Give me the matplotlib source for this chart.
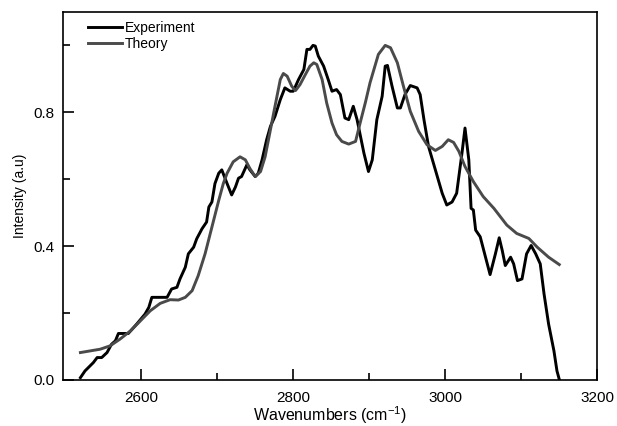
import matplotlib
matplotlib.use("Agg")
import matplotlib.pyplot as plt
from matplotlib.ticker import FixedLocator

plt.rcParams['font.family'] = ['Liberation Sans', 'DejaVu Sans']
plt.rcParams['mathtext.fontset'] = 'custom'
plt.rcParams['mathtext.rm'] = 'Liberation Sans'

# experiment (black)
exp_x = [2520, 2526, 2537, 2542, 2548, 2555, 2561, 2566, 2570, 2583, 2594, 2605,
         2610, 2614, 2621, 2634, 2640, 2647, 2651, 2658, 2662, 2669, 2673, 2680,
         2686, 2689, 2693, 2697, 2702, 2706, 2713, 2719, 2724, 2728, 2732, 2739,
         2743, 2750, 2754, 2759, 2765, 2770, 2776, 2783, 2789, 2796, 2800, 2807,
         2814, 2818, 2822, 2826, 2829, 2833, 2840, 2846, 2851, 2857, 2862, 2868,
         2873, 2879, 2884, 2893, 2899, 2904, 2910, 2917, 2921, 2924, 2930, 2937,
         2941, 2947, 2954, 2963, 2967, 2972, 2978, 2987, 2996, 3002, 3009, 3015,
         3022, 3026, 3031, 3034, 3037, 3040, 3046, 3053, 3059, 3066, 3071, 3075,
         3079, 3086, 3090, 3095, 3101, 3107, 3113, 3119, 3125, 3130, 3136, 3143,
         3147, 3150]
exp_y = [0.007, 0.027, 0.052, 0.067, 0.067, 0.082, 0.107, 0.117, 0.139, 0.139, 0.167, 0.197,
         0.217, 0.247, 0.247, 0.247, 0.272, 0.277, 0.302, 0.337, 0.377, 0.397, 0.422, 0.452,
         0.472, 0.517, 0.532, 0.587, 0.618, 0.628, 0.587, 0.553, 0.577, 0.603, 0.608, 0.643,
         0.628, 0.608, 0.618, 0.658, 0.718, 0.758, 0.788, 0.838, 0.873, 0.863, 0.863, 0.898,
         0.928, 0.988, 0.988, 1.0, 0.998, 0.968, 0.938, 0.898, 0.863, 0.868, 0.853, 0.783,
         0.778, 0.818, 0.778, 0.678, 0.623, 0.658, 0.778, 0.848, 0.938, 0.94, 0.878, 0.813,
         0.813, 0.853, 0.88, 0.873, 0.853, 0.778, 0.698, 0.628, 0.558, 0.523, 0.532, 0.558,
         0.678, 0.753, 0.658, 0.513, 0.508, 0.448, 0.428, 0.367, 0.315, 0.377, 0.425, 0.387,
         0.342, 0.367, 0.347, 0.297, 0.302, 0.377, 0.402, 0.377, 0.347, 0.257, 0.167, 0.087,
         0.027, 0.002]

# theory (grey)
th_x = [2520, 2546, 2559, 2572, 2586, 2599, 2612, 2625, 2638, 2649, 2658, 2667,
        2675, 2684, 2693, 2702, 2708, 2713, 2721, 2730, 2737, 2743, 2750, 2757,
        2763, 2770, 2776, 2783, 2787, 2792, 2798, 2803, 2809, 2816, 2822, 2827,
        2831, 2838, 2844, 2851, 2857, 2864, 2873, 2882, 2888, 2895, 2901, 2912,
        2921, 2928, 2937, 2945, 2954, 2965, 2976, 2987, 2996, 3004, 3011, 3018,
        3026, 3037, 3050, 3064, 3081, 3094, 3110, 3121, 3136, 3150]
th_y = [0.082, 0.092, 0.102, 0.122, 0.147, 0.177, 0.207, 0.229, 0.24, 0.239, 0.247, 0.267,
        0.312, 0.377, 0.457, 0.537, 0.587, 0.618, 0.652, 0.667, 0.658, 0.632, 0.608, 0.623,
        0.667, 0.748, 0.818, 0.898, 0.916, 0.908, 0.878, 0.865, 0.883, 0.913, 0.938, 0.948,
        0.943, 0.898, 0.828, 0.768, 0.733, 0.713, 0.705, 0.713, 0.768, 0.83, 0.888, 0.973,
        1.0, 0.993, 0.948, 0.878, 0.803, 0.743, 0.703, 0.686, 0.698, 0.718, 0.71, 0.683,
        0.638, 0.593, 0.548, 0.513, 0.463, 0.438, 0.423, 0.397, 0.367, 0.345]

fig = plt.figure(figsize=(6.17, 4.26), dpi=100)
ax = fig.add_axes([0.102, 0.108, 0.866, 0.864])

ax.plot(exp_x, exp_y, color='black', lw=2.1, label='Experiment')
ax.plot(th_x, th_y, color='#4a4a4a', lw=2.1, label='Theory')

ax.set_xlim(2497, 3200)
ax.set_ylim(0, 1.1)
ax.set_xticks([2600, 2800, 3000, 3200])
ax.set_yticks([0.0, 0.4, 0.8])
ax.set_yticklabels(['0.0', '0.4', '0.8'])
ax.xaxis.set_minor_locator(FixedLocator([2700, 2900, 3100]))
ax.yaxis.set_minor_locator(FixedLocator([0.2, 0.6, 1.0]))
ax.tick_params(which='both', direction='in', width=1.2, labelsize=11)
ax.tick_params(axis='x', which='both', pad=8)
ax.tick_params(axis='y', which='both', pad=6)
ax.tick_params(which='major', length=8)
ax.tick_params(which='minor', length=5)
for s in ax.spines.values():
    s.set_linewidth(1.2)

ax.set_xlabel('Wavenumbers (cm$^{-1}$)', fontsize=11.5, labelpad=-0.5)
ax.set_ylabel('Intensity (a.u)', fontsize=10, labelpad=5)

ax.legend(loc='upper left', bbox_to_anchor=(0.047, 0.975), frameon=False,
          borderpad=0, borderaxespad=0,
          fontsize=10, handlelength=2.45, handletextpad=0.2, labelspacing=0.15)

fig.savefig('out.png', dpi=100)
